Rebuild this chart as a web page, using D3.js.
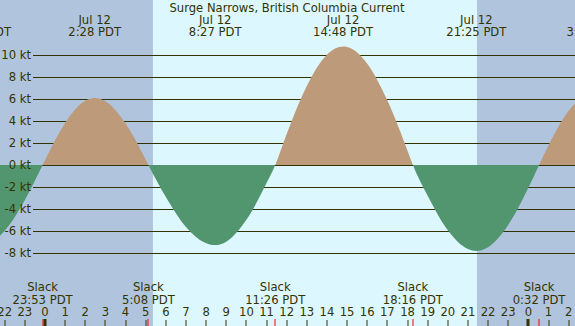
<!DOCTYPE html>
<html><head><meta charset="utf-8">
<script src="https://cdn.jsdelivr.net/npm/d3@7/dist/d3.min.js"></script>
<style>html,body{margin:0;padding:0;background:#b0c4de;}svg{display:block;font-family:"DejaVu Sans",sans-serif;}</style>
</head><body><svg id="c" width="575" height="326"></svg>
<script>
// Hours measured from midnight Jul 12 (PDT)
const title = "Surge Narrows, British Columbia Current";
const sunrise = 5.36, sunset = 21.45;
// current readings (kt) with their times (hours)
const times = [-3.18,-3,-2,-1,-0.117,0,1,2,2.467,3,4,5,5.133,6,7,8,8.45,9,10,11,11.433,12,13,14,14.8,15,16,17,18,18.267,19,20,21,21.417,22,23,24,24.533,25,26,27,27.2];
const speeds = [-7.3,-7.27,-6.0,-3.19,0,0.43,3.83,5.86,6.1,5.80,3.78,0.48,0,-2.91,-5.65,-7.13,-7.3,-6.99,-5.0,-1.65,0,2.82,7.21,10.06,10.8,10.76,9.24,5.87,1.30,0,-2.80,-5.95,-7.66,-7.83,-7.49,-5.47,-2.08,0,1.77,4.94,6.45,6.5];
// max current events (top labels)
const maxTimes = [-3.18, 2.467, 8.45, 14.8, 21.417, 27.2];
const maxDates = ["Jul 11","Jul 12","Jul 12","Jul 12","Jul 12","Jul 13"];
const maxLabels = ["20:49 PDT","2:28 PDT","8:27 PDT","14:48 PDT","21:25 PDT","3:12 PDT"];
// slack events (bottom labels)
const slackTimes = [-0.117, 5.133, 11.433, 18.267, 24.533];
const slackLabels = ["23:53 PDT","5:08 PDT","11:26 PDT","18:16 PDT","0:32 PDT"];
// hour ticks
const hourTicks = d3.range(-2, 27);
const hourLabels = hourTicks.map(h => String(((h % 24) + 24) % 24));
const yTicks = [-8,-6,-4,-2,0,2,4,6,8,10];
const yLabels = yTicks.map(v => v + " kt");

const W = 575, H = 326;
const ink = "#333300";
const FS = 11.6;
const x = d3.scaleLinear().domain([0, 24]).range([45, 45 + 24*20.14]);
const y = d3.scaleLinear().domain([-8, 10]).range([165 + 8*10.97, 165 - 10*10.97]);
const svg = d3.select("#c");

svg.append("rect").attr("width", W).attr("height", H).attr("fill", "#b0c4de");
svg.append("rect").attr("x", x(sunrise)).attr("y", 0).attr("width", x(sunset) - x(sunrise)).attr("height", H).attr("fill", "#ddf7fe");

// grid lines
svg.append("g").selectAll("line").data(yTicks).join("line")
  .attr("x1", 33).attr("x2", W)
  .attr("y1", d => Math.round(y(d)) + 0.5).attr("y2", d => Math.round(y(d)) + 0.5)
  .attr("stroke", ink).attr("stroke-width", 1);

const data = times.map((t, i) => ({t, v: speeds[i]}));
const area = d3.area().x(d => x(d.t)).y0(y(0)).y1(d => y(d.v)).curve(d3.curveMonotoneX);
const defs = svg.append("defs");
defs.append("clipPath").attr("id", "pos").append("rect").attr("x", 0).attr("y", 0).attr("width", W).attr("height", Math.round(y(0)));
defs.append("clipPath").attr("id", "neg").append("rect").attr("x", 0).attr("y", Math.round(y(0))).attr("width", W).attr("height", H);
svg.append("path").datum(data).attr("d", area).attr("fill", "#bc9a7a").attr("clip-path", "url(#pos)");
svg.append("path").datum(data).attr("d", area).attr("fill", "#529670").attr("clip-path", "url(#neg)");

// y labels
svg.append("g").selectAll("text").data(yTicks).join("text")
  .attr("x", 31).attr("y", d => y(d)).attr("dy", "0.36em")
  .attr("text-anchor", "end").attr("font-size", FS).attr("fill", ink)
  .text((d, i) => yLabels[i]);

// title
svg.append("text").attr("x", 287).attr("y", 12).attr("text-anchor", "middle")
  .attr("font-size", FS).attr("fill", ink).text(title);

// max labels
const mg = svg.append("g").attr("font-size", FS).attr("fill", ink).attr("text-anchor", "middle");
maxTimes.forEach((t, i) => {
  mg.append("text").attr("x", x(t)).attr("y", 24).text(maxDates[i]);
  mg.append("text").attr("x", x(t)).attr("y", 36).text(maxLabels[i]);
});

// slack labels
const sg = svg.append("g").attr("font-size", FS).attr("fill", ink).attr("text-anchor", "middle");
slackTimes.forEach((t, i) => {
  sg.append("text").attr("x", x(t)).attr("y", 291).text("Slack");
  sg.append("text").attr("x", x(t)).attr("y", 304).text(slackLabels[i]);
});

// hour labels and ticks
const hg = svg.append("g");
hg.selectAll("text").data(hourTicks).join("text")
  .attr("x", d => x(d)).attr("y", 316).attr("text-anchor", "middle")
  .attr("font-size", FS).attr("fill", ink).text((d, i) => hourLabels[i]);
hg.selectAll("rect.tick").data(hourTicks).join("rect").attr("class", "tick")
  .attr("x", d => Math.round(x(d)) - (d % 24 === 0 ? 1.5 : 0.5))
  .attr("width", d => d % 24 === 0 ? 3 : 1)
  .attr("y", d => d % 24 === 0 ? 319 : 320).attr("height", 7).attr("fill", ink);
hg.selectAll("rect.slack").data(slackTimes).join("rect").attr("class", "slack")
  .attr("x", d => Math.round(x(d)) - 0.5).attr("width", 1)
  .attr("y", 319).attr("height", 7).attr("fill", "#ff0000");
</script></body></html>
